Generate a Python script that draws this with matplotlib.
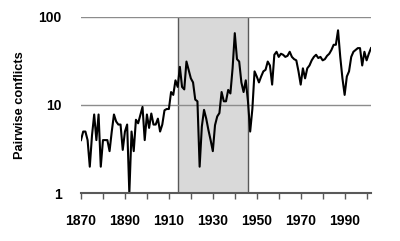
import matplotlib.pyplot as plt
import matplotlib.ticker as mticker

years = list(range(1870, 2003))
conflicts = [
    4.0, 5.0, 5.0, 4.0, 2.0, 4.5, 7.8, 4.0, 7.8, 2.0,      # 1870-1879
    4.0, 4.0, 4.0, 3.0, 5.0, 7.8, 6.5, 6.0, 6.0, 3.1,      # 1880-1889
    5.0, 6.0, 1.0, 5.0, 3.0, 6.8, 6.2, 7.7, 9.5, 4.0,      # 1890-1899
    7.8, 5.5, 8.0, 6.0, 6.0, 7.0, 5.0, 6.0, 8.7, 9.0,      # 1900-1909
    9.0, 14.0, 13.0, 19.0, 16.0, 27.0, 16.0, 15.0, 31.0, 25.0,  # 1910-1919
    20.0, 18.0, 11.5, 11.0, 2.0, 5.7, 8.8, 7.0, 5.2, 4.0,  # 1920-1929
    3.0, 5.9, 7.4, 8.1, 14.0, 11.0, 11.0, 14.8, 13.5, 26.0,  # 1930-1939
    65.0, 33.0, 31.0, 18.0, 14.0, 19.0, 11.0, 5.0, 9.0, 24.0,  # 1940-1949
    21.0, 18.0, 21.0, 24.0, 25.0, 31.0, 28.0, 17.0, 37.0, 40.0,  # 1950-1959
    35.0, 38.0, 37.0, 35.0, 36.0, 40.0, 35.0, 33.0, 32.0, 24.0,  # 1960-1969
    17.0, 26.0, 20.0, 26.0, 28.0, 32.0, 35.0, 37.0, 34.0, 35.0,  # 1970-1979
    32.0, 33.0, 36.0, 38.0, 42.0, 48.0, 48.0, 70.0, 35.0, 20.0,  # 1980-1989
    13.0, 21.0, 24.0, 35.0, 40.0, 42.0, 44.0, 44.0, 28.0, 40.0,  # 1990-1999
    32.0, 38.0, 44.0,                                       # 2000-2002
]

# shaded period
shade_start, shade_end = 1914, 1946

xtick_pos = list(range(1870, 2003, 10))
xtick_labels = ['1870', '', '1890', '', '1910', '', '1930', '', '1950', '',
                '1970', '', '1990', '']
ytick_pos = [1, 10, 100]
ytick_labels = ['1', '10', '100']

plt.rcParams['font.family'] = ['Liberation Sans', 'DejaVu Sans']

fig = plt.figure(figsize=(4.0, 2.41), dpi=100)
ax = fig.add_axes([0.2025, 0.198, 0.725, 0.733])

ax.axvspan(shade_start, shade_end, color='#d9d9d9', zorder=0, lw=0)
ax.axvline(shade_start, color='#595959', lw=1.0, zorder=1)
ax.axvline(shade_end, color='#595959', lw=1.0, zorder=1)

for yv in [10, 100]:
    ax.axhline(yv, color='#8c8c8c', lw=1.0, zorder=1)

ax.plot(years, conflicts, color='black', lw=1.5, zorder=3)

ax.set_yscale('log')
ax.set_ylim(1, 100)
ax.set_xlim(1870, 2002)

ax.set_yticks(ytick_pos)
ax.set_yticklabels(ytick_labels, fontsize=10, fontweight='bold')
ax.yaxis.set_minor_locator(mticker.NullLocator())
ax.tick_params(axis='y', length=0, pad=14)

ax.set_xticks(xtick_pos)
ax.set_xticklabels(xtick_labels, fontsize=10, fontweight='bold')
ax.tick_params(axis='x', length=4, width=1, color='#595959', pad=11)

for side in ['top', 'right', 'left']:
    ax.spines[side].set_visible(False)
ax.spines['bottom'].set_color('#595959')
ax.spines['bottom'].set_linewidth(1.5)
ax.spines['bottom'].set_zorder(4)

ax.set_ylabel('Pairwise conflicts', fontsize=9.2, fontweight='bold')
ax.yaxis.set_label_coords(-0.19, 0.5)

fig.savefig('out.png', dpi=100)
